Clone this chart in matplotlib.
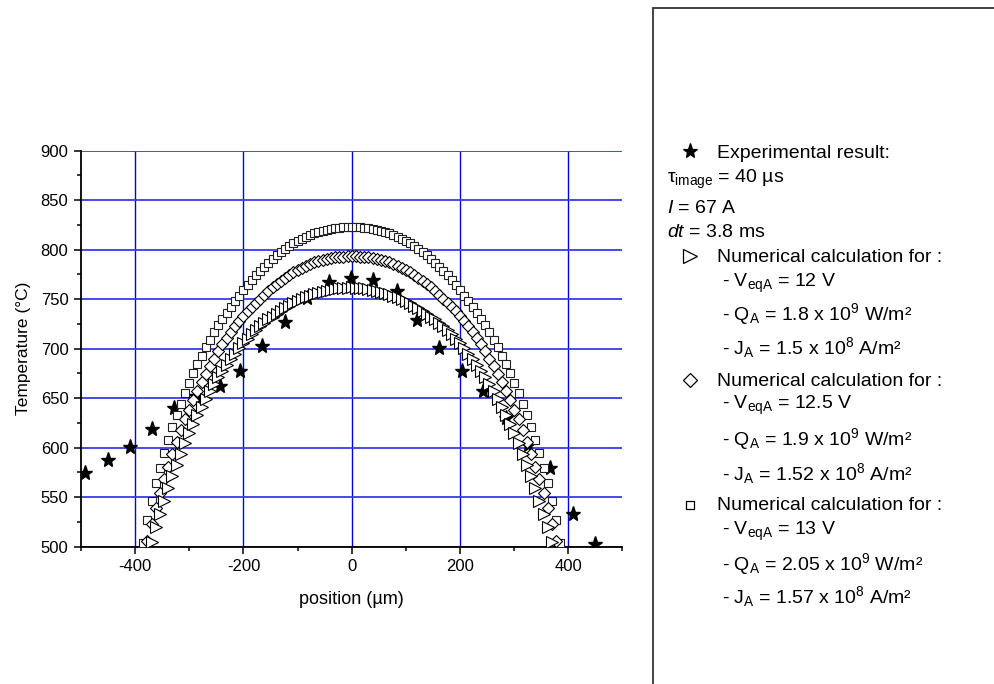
import matplotlib
matplotlib.use('Agg')
import matplotlib.pyplot as plt
from matplotlib.ticker import MultipleLocator
from matplotlib.lines import Line2D
from matplotlib.patches import Rectangle

plt.rcParams['font.family'] = ['Liberation Sans', 'DejaVu Sans']
plt.rcParams['mathtext.fontset'] = 'custom'
plt.rcParams['mathtext.rm'] = 'Liberation Sans'
plt.rcParams['mathtext.it'] = 'Liberation Sans:italic'
plt.rcParams['axes.unicode_minus'] = False

# 实验结果（星号）
exp_pos = [-492, -450, -409, -369, -329, -287, -244, -206, -165, -123, -82, -42,
           -1, 40, 83, 121, 162, 203, 243, 285, 326, 367, 408, 449]
exp_T = [574, 588, 601, 619, 640, 652, 662, 677, 703, 727, 751, 767,
         771, 769, 758, 729, 701, 677, 657, 630, 603, 580, 533, 503]

# 数值计算网格 (µm)
calc_pos = [-385.0, -377.3, -369.6, -361.9, -354.2, -346.5, -338.8, -331.1, -323.4, -315.7,
            -308.0, -300.3, -292.6, -284.9, -277.2, -269.5, -261.8, -254.1, -246.4, -238.7,
            -231.0, -223.3, -215.6, -207.9, -200.2, -192.5, -184.8, -177.1, -169.4, -161.7,
            -154.0, -146.3, -138.6, -130.9, -123.2, -115.5, -107.8, -100.1, -92.4, -84.7,
            -77.0, -69.3, -61.6, -53.9, -46.2, -38.5, -30.8, -23.1, -15.4, -7.7,
            0.0,
            7.7, 15.4, 23.1, 30.8, 38.5, 46.2, 53.9, 61.6, 69.3, 77.0,
            84.7, 92.4, 100.1, 107.8, 115.5, 123.2, 130.9, 138.6, 146.3, 154.0,
            161.7, 169.4, 177.1, 184.8, 192.5, 200.2, 207.9, 215.6, 223.3, 231.0,
            238.7, 246.4, 254.1, 261.8, 269.5, 277.2, 284.9, 292.6, 300.3, 308.0,
            315.7, 323.4, 331.1, 338.8, 346.5, 354.2, 361.9, 369.6, 377.3, 385.0]

# V_eqA = 12 V（三角形）
T_12V = [470.0, 488.0, 505.0, 519.5, 533.0, 546.5, 559.0, 571.0, 583.0, 594.0,
         604.5, 614.5, 624.0, 633.0, 641.5, 649.5, 657.0, 664.0, 671.0, 677.5,
         683.5, 689.5, 695.0, 700.5, 705.5, 710.0, 714.5, 718.5, 722.5, 726.0,
         729.5, 732.5, 735.5, 738.5, 741.0, 743.5, 745.8, 748.0, 750.0, 751.8,
         753.5, 755.0, 756.4, 757.6, 758.7, 759.6, 760.4, 761.0, 761.5, 761.8,
         762.0,
         761.8, 761.5, 761.0, 760.4, 759.6, 758.7, 757.6, 756.4, 755.0, 753.5,
         751.8, 750.0, 748.0, 745.8, 743.5, 741.0, 738.5, 735.5, 732.5, 729.5,
         726.0, 722.5, 718.5, 714.5, 710.0, 705.5, 700.5, 695.0, 689.5, 683.5,
         677.5, 671.0, 664.0, 657.0, 649.5, 641.5, 633.0, 624.0, 614.5, 604.5,
         594.0, 583.0, 571.0, 559.0, 546.5, 533.0, 519.5, 505.0, 488.0, 470.0]

# V_eqA = 12.5 V（菱形）
T_125V = [488.0, 506.0, 523.0, 539.0, 554.0, 568.0, 581.0, 594.0, 606.0, 617.5,
          628.5, 638.5, 648.0, 657.0, 666.0, 674.5, 682.5, 690.0, 697.5, 704.5,
          710.5, 716.5, 722.5, 728.0, 733.0, 738.0, 742.5, 746.5, 750.5, 754.5,
          758.5, 762.0, 765.5, 768.5, 771.5, 774.5, 777.0, 779.5, 781.7, 783.7,
          785.5, 787.1, 788.5, 789.7, 790.7, 791.5, 792.2, 792.7, 793.0, 793.2,
          793.3,
          793.2, 793.0, 792.7, 792.2, 791.5, 790.7, 789.7, 788.5, 787.1, 785.5,
          783.7, 781.7, 779.5, 777.0, 774.5, 771.5, 768.5, 765.5, 762.0, 758.5,
          754.5, 750.5, 746.5, 742.5, 738.0, 733.0, 728.0, 722.5, 716.5, 710.5,
          704.5, 697.5, 690.0, 682.5, 674.5, 666.0, 657.0, 648.0, 638.5, 628.5,
          617.5, 606.0, 594.0, 581.0, 568.0, 554.0, 539.0, 523.0, 506.0, 488.0]

# V_eqA = 13 V（方形）
T_13V = [503.5, 527.0, 546.5, 564.0, 580.0, 595.0, 608.0, 621.0, 633.0, 644.0,
         655.0, 665.0, 675.0, 684.5, 693.0, 701.5, 709.0, 716.5, 723.5, 730.0,
         736.0, 742.0, 748.0, 753.5, 759.0, 764.5, 769.5, 774.0, 778.5, 783.0,
         787.0, 791.0, 794.5, 798.0, 801.0, 804.0, 806.5, 809.0, 811.2, 813.2,
         815.0, 816.6, 818.0, 819.2, 820.2, 821.0, 821.7, 822.2, 822.5, 822.7,
         822.8,
         822.7, 822.5, 822.2, 821.7, 821.0, 820.2, 819.2, 818.0, 816.6, 815.0,
         813.2, 811.2, 809.0, 806.5, 804.0, 801.0, 798.0, 794.5, 791.0, 787.0,
         783.0, 778.5, 774.0, 769.5, 764.5, 759.0, 753.5, 748.0, 742.0, 736.0,
         730.0, 723.5, 716.5, 709.0, 701.5, 693.0, 684.5, 675.0, 665.0, 655.0,
         644.0, 633.0, 621.0, 608.0, 595.0, 580.0, 564.0, 546.5, 527.0, 503.5]


def main():
    fig = plt.figure(figsize=(9.95, 6.84), dpi=100)
    ax = fig.add_axes([81 / 995, 1 - 546.7 / 684, (622.5 - 81) / 995, (546.7 - 150.7) / 684])

    ax.plot(exp_pos, exp_T, linestyle='none', marker='*', ms=11,
            color='black', zorder=3)
    ax.plot(calc_pos, T_13V, linestyle='none', marker='s', ms=5.3, mfc='white',
            mec='#202020', mew=0.8, zorder=4)
    ax.plot(calc_pos, T_125V, linestyle='none', marker='D', ms=5.8, mfc='white',
            mec='black', mew=0.8, zorder=5)
    ax.plot(calc_pos, T_12V, linestyle='none', marker='>', ms=8, mfc='white',
            mec='black', mew=0.8, zorder=6)

    ax.set_xlim(-500, 500)
    ax.set_ylim(500, 900)
    ax.xaxis.set_major_locator(MultipleLocator(200))
    ax.xaxis.set_minor_locator(MultipleLocator(100))
    ax.yaxis.set_major_locator(MultipleLocator(50))
    ax.yaxis.set_minor_locator(MultipleLocator(25))
    ax.tick_params(which='major', direction='out', length=5, width=1.1,
                   labelsize=12, pad=4)
    ax.tick_params(which='minor', direction='out', length=3, width=1.1)
    for side in ['top', 'right']:
        ax.spines[side].set_visible(False)
    for side in ['left', 'bottom']:
        ax.spines[side].set_linewidth(1.3)

    # 蓝色网格
    ax.grid(True, which='major', axis='x', color='#0000dd', lw=1.0, zorder=1)
    ax.grid(True, which='major', axis='y', color='#3a3aee', lw=1.3, zorder=1)
    ygl = ax.yaxis.get_gridlines()
    ygl[0].set_visible(False)
    ygl[-1].set_visible(False)
    ax.set_axisbelow(True)

    ax.set_xlabel('position (µm)', fontsize=13, labelpad=12)
    ax.set_ylabel('Temperature (°C)', fontsize=12.5, labelpad=7)

    # 右侧图例面板
    fig.add_artist(Rectangle((653 / 995, -0.1), 1.0, 1 - 8 / 684 + 0.1,
                             transform=fig.transFigure, fill=False,
                             edgecolor='#333333', lw=1.3))

    def fy(py):
        return 1 - py / 684

    def fx(px):
        return px / 995

    fs = 14
    marks = [('*', 11, 150.7, 'black'), ('>', 9.5, 256, 'white'),
             ('D', 7.5, 380, 'white'), ('s', 5.5, 505, 'white')]
    for m, s, py, fc in marks:
        fig.add_artist(Line2D([fx(690)], [fy(py)], marker=m, ms=s, mfc=fc,
                              mec='black', mew=0.9, linestyle='none',
                              transform=fig.transFigure))

    lines = [
        (717, 158.3, 'Experimental result:'),
        (667, 183.3, 'τ$_{\\mathrm{image}}$ = 40 µs'),
        (667, 213.3, '$I$ = 67 A'),
        (667, 237.3, '$dt$ = 3.8 ms'),
        (717, 261.7, 'Numerical calculation for :'),
        (722, 286.7, '- V$_{\\mathrm{eqA}}$ = 12 V'),
        (722, 320.0, '- Q$_{\\mathrm{A}}$ = 1.8 x 10$^{9}$ W/m²'),
        (722, 354.0, '- J$_{\\mathrm{A}}$ = 1.5 x 10$^{8}$ A/m²'),
        (717, 385.7, 'Numerical calculation for :'),
        (722, 409.3, '- V$_{\\mathrm{eqA}}$ = 12.5 V'),
        (722, 445.0, '- Q$_{\\mathrm{A}}$ = 1.9 x 10$^{9}$ W/m²'),
        (722, 480.0, '- J$_{\\mathrm{A}}$ = 1.52 x 10$^{8}$ A/m²'),
        (717, 510.0, 'Numerical calculation for :'),
        (722, 535.0, '- V$_{\\mathrm{eqA}}$ = 13 V'),
        (722, 570.0, '- Q$_{\\mathrm{A}}$ = 2.05 x 10$^{9}$ W/m²'),
        (722, 603.3, '- J$_{\\mathrm{A}}$ = 1.57 x 10$^{8}$ A/m²'),
    ]
    for px, py, txt in lines:
        fig.text(fx(px), fy(py), txt, fontsize=fs, ha='left', va='baseline')

    fig.savefig('out.png', dpi=100)


if __name__ == "__main__":
    main()
